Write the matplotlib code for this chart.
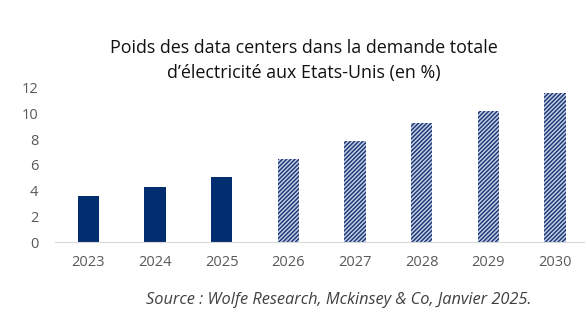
import numpy as np
import matplotlib
matplotlib.use("Agg")
import matplotlib.pyplot as plt

years = ["2023", "2024", "2025", "2026", "2027", "2028", "2029", "2030"]
values = [3.6, 4.25, 5.1, 6.5, 7.9, 9.25, 10.2, 11.6]
n_actual = 3  # first three are actuals, rest are projections

navy = "#022d6e"
plt.rcParams["hatch.linewidth"] = 1.1

fig = plt.figure(figsize=(5.85, 3.28), dpi=100)
ax = fig.add_axes([0.094, 0.262, 0.906, 0.47])

x = np.arange(len(years))
ax.bar(x[:n_actual], values[:n_actual], width=0.32, color=navy, linewidth=0)
ax.bar(x[n_actual:], values[n_actual:], width=0.32, color="#c9d4e8",
       edgecolor="#1f3a78", hatch="////////", linewidth=0)

ax.set_xlim(-0.5, 7.45)
ax.set_ylim(0, 12)
ax.set_yticks(range(0, 13, 2))
ax.set_xticks(x)
ax.set_xticklabels(years)
for s in ["top", "right", "left"]:
    ax.spines[s].set_visible(False)
ax.spines["bottom"].set_color("#d9d9d9")
ax.tick_params(axis="both", length=0, colors="#595959", labelsize=10.5)
ax.tick_params(axis="x", pad=9)
ax.tick_params(axis="y", pad=12)
for lab in ax.get_xticklabels() + ax.get_yticklabels():
    lab.set_family("Open Sans")

fig.text(0.52, 0.815, "Poids des data centers dans la demande totale\nd\u2019électricité aux Etats-Unis (en %)",
         ha="center", va="center", fontsize=12.9, family="Open Sans", color="#111111",
         linespacing=1.5)
fig.text(0.25, 0.085, "Source : Wolfe Research, Mckinsey & Co, Janvier 2025.",
         ha="left", va="center", fontsize=11.8, family="Open Sans", style="italic", color="#404040")

fig.savefig("out.png", dpi=100)
